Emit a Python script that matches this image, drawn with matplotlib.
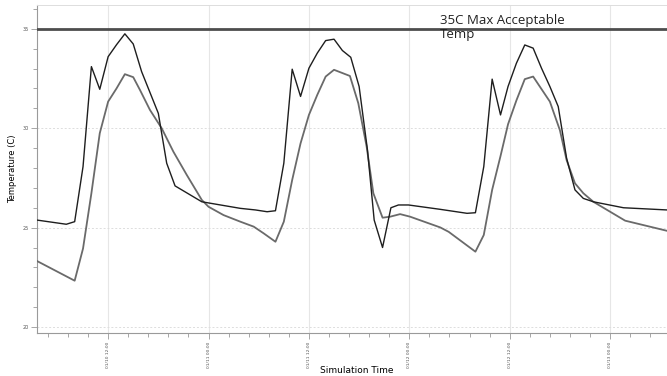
import matplotlib
matplotlib.use("Agg")
import matplotlib.pyplot as plt
from matplotlib.ticker import MultipleLocator

# Hours since 01/10 00:00
black_t = [3.5, 7.0, 8.0, 9.0, 10.0, 11.0, 12.0, 13.0, 14.0, 15.0, 16.0, 18.0, 19.0, 20.0,
           23.2, 27.8, 29.6, 31.0, 32.0, 33.0, 34.0, 35.0, 36.0, 37.0, 38.0, 39.0, 40.0,
           41.0, 42.0, 43.0, 43.8, 44.8, 45.8, 46.7, 47.9, 51.7, 54.9, 55.9, 56.9, 57.9,
           58.9, 59.8, 60.8, 61.8, 62.8, 63.8, 64.8, 65.8, 66.8, 67.8, 68.8, 70.0, 73.6, 78.8]
black_v = [25.38, 25.17, 25.3, 28.07, 33.1, 31.96, 33.6, 34.2, 34.75, 34.24, 32.85, 30.75, 28.24, 27.1,
           26.3, 25.97, 25.89, 25.8, 25.85, 28.24, 32.97, 31.6, 33.02, 33.78, 34.41, 34.48, 33.91,
           33.57, 32.1, 28.9, 25.38, 24.0, 26.0, 26.14, 26.14, 25.92, 25.72, 25.75, 28.07, 32.47,
           30.67, 32.1, 33.27, 34.19, 34.03, 33.02, 32.1, 31.09, 28.49, 26.9, 26.47, 26.3, 26.0, 25.89]

gray_t = [3.5, 8.0, 9.0, 10.0, 11.0, 12.0, 13.0, 14.0, 15.0, 15.8, 17.0, 18.4, 19.8, 21.4,
          23.2, 24.0, 25.8, 27.8, 29.4, 30.6, 32.0, 33.0, 34.0, 35.0, 36.0, 37.0, 38.0, 39.0,
          40.9, 41.9, 42.9, 43.7, 44.8, 45.7, 46.9, 48.1, 51.7, 52.7, 55.9, 56.9, 57.9, 58.9,
          59.8, 60.8, 61.8, 62.8, 64.8, 66.0, 66.8, 67.8, 68.8, 70.0, 73.8, 78.8]
gray_v = [23.32, 22.33, 23.95, 26.73, 29.75, 31.34, 32.0, 32.72, 32.57, 31.93, 30.92, 30.0, 28.82, 27.65,
          26.39, 26.05, 25.63, 25.3, 25.05, 24.71, 24.29, 25.3, 27.4, 29.24, 30.67, 31.68, 32.6, 32.94,
          32.63, 31.26, 29.07, 26.73, 25.5, 25.55, 25.68, 25.55, 25.01, 24.79, 23.79, 24.63, 26.9, 28.6,
          30.2, 31.4, 32.47, 32.6, 31.34, 29.9, 28.4, 27.23, 26.73, 26.3, 25.35, 24.84]

max_temp = 35
x_major = [12, 24, 36, 48, 60, 72]
x_labels = ["01/10 12:00", "01/11 00:00", "01/11 12:00", "01/12 00:00", "01/12 12:00", "01/13 00:00"]
y_ticks = [20, 25, 30, 35]

fig = plt.figure(figsize=(6.67, 3.76), dpi=100)
ax = fig.add_axes([0.0555, 0.1144, 0.9445, 0.8723])

ax.plot(gray_t, gray_v, color="#6a6a6a", lw=1.3, zorder=3)
ax.plot(black_t, black_v, color="#1e1e1e", lw=1.0, zorder=4)
ax.axhline(max_temp, color="#4d4d4d", lw=2.0, zorder=5)
ax.text(51.7, 35.05, "35C Max Acceptable\nTemp", fontsize=9.5, family="Open Sans",
        color="#222222", va="center", ha="left", linespacing=1.1, zorder=6)

ax.set_xlim(3.5, 78.8)
ax.set_ylim(19.7, 36.2)

ax.set_xticks(x_major)
ax.set_xticklabels(x_labels, rotation=90, fontsize=3.2, color="#555555")
ax.xaxis.set_minor_locator(MultipleLocator(2.4))
ax.set_yticks(y_ticks)
ax.set_yticklabels([str(v) for v in y_ticks], fontsize=3.5, color="#555555")
ax.yaxis.set_minor_locator(MultipleLocator(1))
ax.tick_params(axis="both", which="both", direction="out", color="#999999", width=0.6)
ax.tick_params(axis="both", which="major", length=4, pad=2)
ax.tick_params(axis="both", which="minor", length=3)

ax.grid(axis="x", which="major", color="#e6e6e6", lw=0.8, ls="-", zorder=0)
ax.grid(axis="y", which="major", color="#dddddd", lw=0.7, ls=(0, (2, 2)), zorder=0)

for s in ["left", "bottom"]:
    ax.spines[s].set_color("#9a9a9a")
    ax.spines[s].set_linewidth(0.8)
ax.spines["top"].set_color("#dddddd")
ax.spines["top"].set_linewidth(0.7)
ax.spines["right"].set_visible(False)

ax.set_ylabel("Temperature (C)", fontsize=6)
ax.yaxis.set_label_coords(-0.032, 0.5)
ax.set_xlabel("Simulation Time", fontsize=6.5)
ax.xaxis.set_label_coords(0.508, -0.1)

fig.savefig("out.png", dpi=100)
